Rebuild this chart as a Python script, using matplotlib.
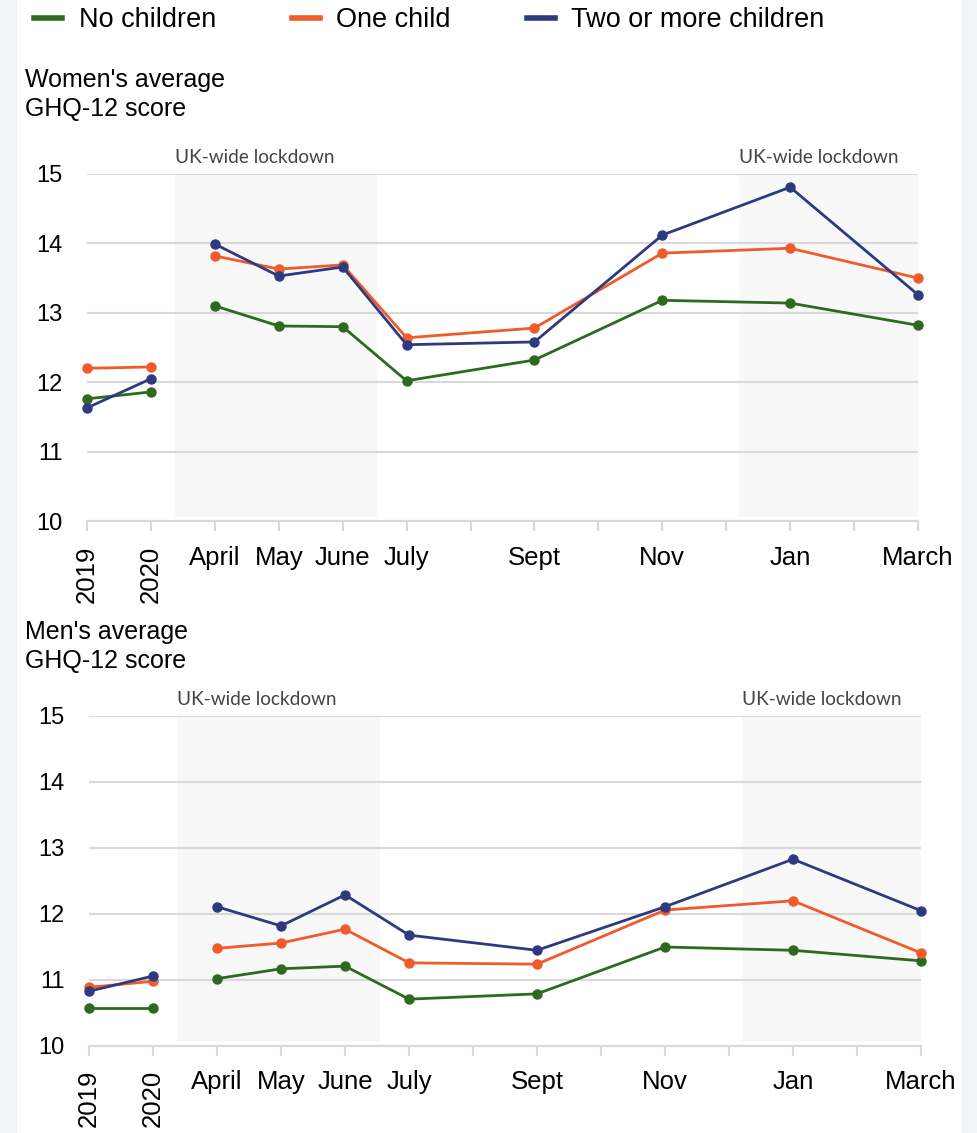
import matplotlib
matplotlib.use("Agg")
import matplotlib.pyplot as plt
from matplotlib.patches import Rectangle

plt.rcParams['font.family'] = ['Liberation Sans', 'DejaVu Sans']

# x positions are months counted from 2019 (0) ... March 2021 (13)
positions = [0, 1, 2, 3, 4, 5, 7, 9, 11, 13]
labels = ['2019', '2020', 'April', 'May', 'June', 'July', 'Sept', 'Nov', 'Jan', 'March']
series_names = ['No children', 'One child', 'Two or more children']
colors = ['#2d6a1f', '#f15a29', '#2e3a7f']

women_none = [11.76, 11.86, 13.10, 12.81, 12.80, 12.02, 12.32, 13.18, 13.14, 12.82]
women_one = [12.20, 12.22, 13.82, 13.63, 13.69, 12.64, 12.78, 13.86, 13.93, 13.50]
women_two = [11.63, 12.05, 13.99, 13.53, 13.66, 12.54, 12.58, 14.12, 14.81, 13.26]

men_none = [10.58, 10.58, 11.02, 11.17, 11.21, 10.71, 10.79, 11.50, 11.45, 11.29]
men_one = [10.89, 10.98, 11.48, 11.56, 11.77, 11.26, 11.24, 12.06, 12.20, 11.41]
men_two = [10.83, 11.06, 12.11, 11.82, 12.29, 11.68, 11.45, 12.11, 12.83, 12.05]

lockdowns = [(1.38, 4.54), (10.2, 13.0)]

W, H = 978, 1133
fig = plt.figure(figsize=(W / 100, H / 100), dpi=100)

# light side bands
fig.patches.append(Rectangle((0, 0), 16 / W, 1, transform=fig.transFigure, color='#f2f3f7', zorder=0))
fig.patches.append(Rectangle((962 / W, 0), 16 / W, 1, transform=fig.transFigure, color='#f2f3f7', zorder=0))


def panel(left, right, y10, y15, title, title_y, values):
    ax = fig.add_axes([left / W, 1 - y10 / H, (right - left) / W, (y10 - y15) / H])
    ax.set_xlim(0, 13)
    ax.set_ylim(10, 15)
    for a, b in lockdowns:
        ax.axvspan(a, b, ymin=0.012, ymax=1, color='#f8f8f8', lw=0, zorder=0)
        ax.text(a, 15.12, 'UK-wide lockdown', family='Lato', fontsize=13.7,
                color='#444444', va='bottom', ha='left')
    ax.grid(axis='y', color='#d9d9d9', lw=1.5, zorder=1)
    ax.set_axisbelow(True)
    for s in ['left', 'right', 'top']:
        ax.spines[s].set_visible(False)
    ax.spines['bottom'].set_color('#d9d9d9')
    ax.spines['bottom'].set_linewidth(1.5)

    # pre-pandemic points are joined separately
    for vals, c, name in zip(values, colors, series_names):
        ax.plot(positions[:2], vals[:2], color=c, lw=2, marker='o', ms=6.5, clip_on=False, zorder=3)
        ax.plot(positions[2:], vals[2:], color=c, lw=2, marker='o', ms=6.5, clip_on=False, zorder=3,
                label=name)

    ax.set_xticks(range(14))
    ax.set_xticklabels([''] * 14)
    ax.tick_params(axis='x', length=7, width=1.5, color='#d9d9d9')
    ax.tick_params(axis='y', length=0, labelsize=17, pad=17.5)
    ax.set_yticks([10, 11, 12, 13, 14, 15])
    for p, lab in zip(positions, labels):
        if p < 2:
            ax.text(p, 9.64, lab, rotation=90, ha='center', va='top', fontsize=18.5)
        else:
            ax.text(p, 9.64, lab, ha='center', va='top', fontsize=18.5)
    fig.text(25 / W, 1 - title_y / H, title, fontsize=18, va='top', ha='left', linespacing=1.25)
    return ax


ax1 = panel(87, 918, 521, 174, "Women's average\nGHQ-12 score", 68,
            [women_none, women_one, women_two])
ax2 = panel(89, 921, 1046, 716, "Men's average\nGHQ-12 score", 620,
            [men_none, men_one, men_two])

handles, names = ax1.get_legend_handles_labels()
leg = fig.legend(handles, names, loc='center left', bbox_to_anchor=(34 / W, 1 - 20 / H), ncol=3,
                 frameon=False, fontsize=19.5, handlelength=1.05, columnspacing=2.8,
                 handletextpad=0.6, borderaxespad=0, borderpad=0)
for line in leg.get_lines():
    line.set_marker('')
    line.set_linewidth(4)

fig.savefig('out.png', dpi=100)
